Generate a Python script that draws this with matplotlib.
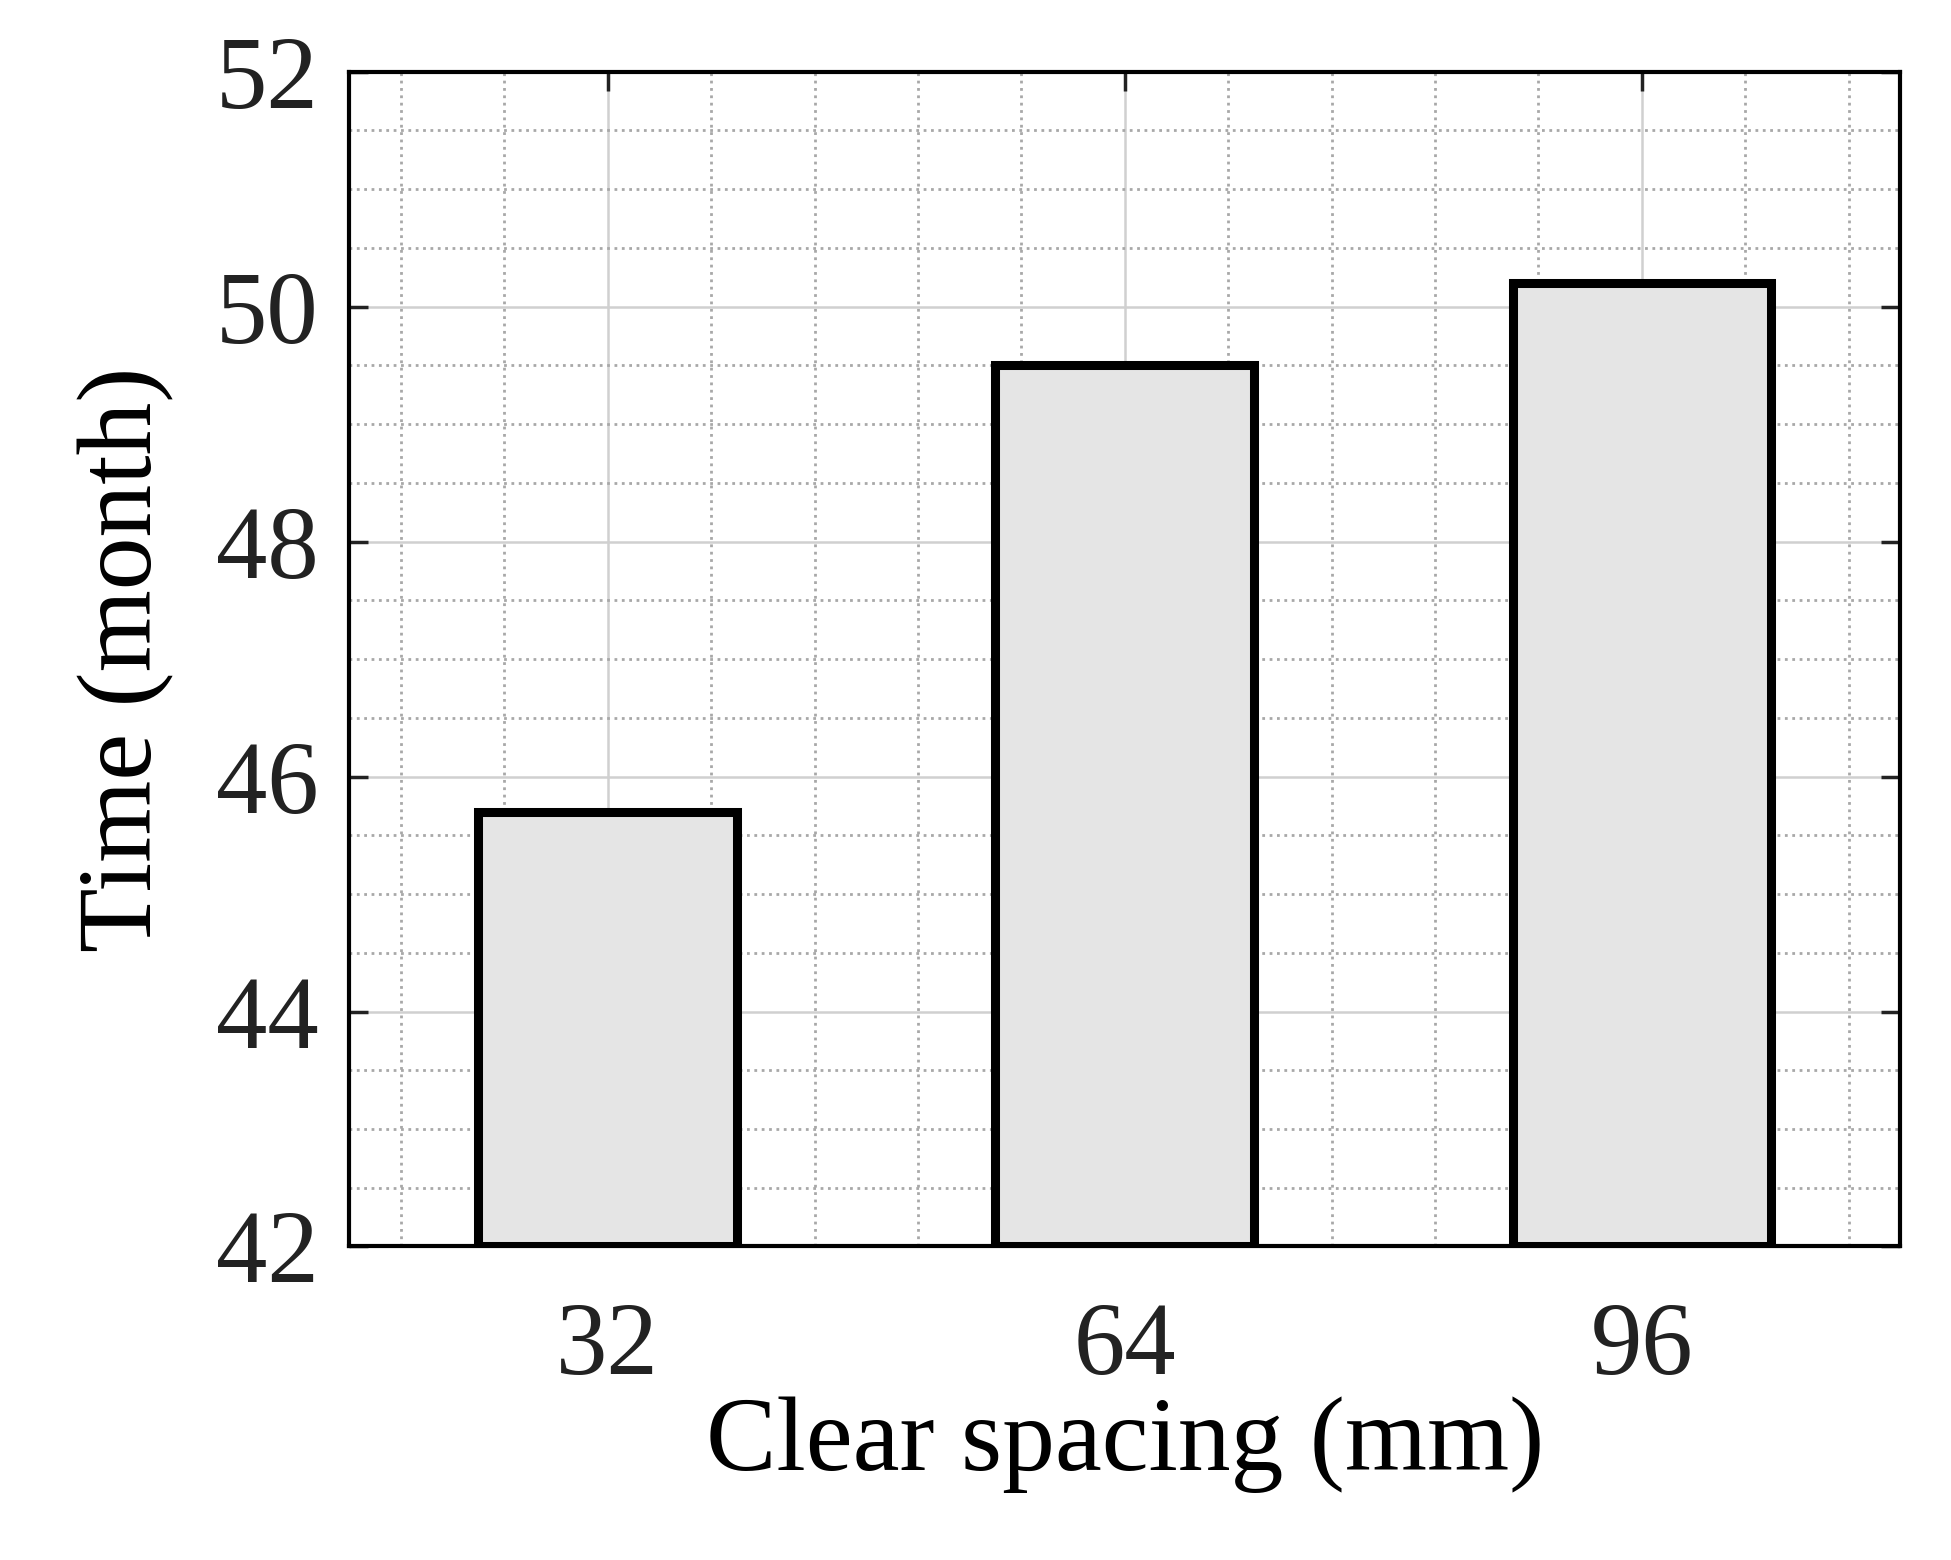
import matplotlib
matplotlib.use("Agg")
import matplotlib.pyplot as plt
from matplotlib.ticker import MultipleLocator

categories = ["32", "64", "96"]
values = [45.7, 49.5, 50.2]

plt.rcParams['font.family'] = ['Liberation Serif', 'DejaVu Serif']
fig = plt.figure(figsize=(19.51, 15.60), dpi=100)
ax = fig.add_axes([0.179, 0.201, 0.795, 0.753])
x = range(1, len(values) + 1)
ax.bar(x, [v - 42 for v in values], bottom=42, width=0.5, color='#e5e5e5',
       edgecolor='black', linewidth=6.5, zorder=3)
ax.set_xlim(0.5, 3.5)
ax.set_ylim(42, 52)
ax.set_xticks(list(x))
ax.set_xticklabels(categories)
ax.set_yticks([42, 44, 46, 48, 50, 52])
ax.xaxis.set_minor_locator(MultipleLocator(0.2))
ax.yaxis.set_minor_locator(MultipleLocator(0.5))
ax.grid(which='major', color='#d0d0d0', linewidth=1.8, zorder=0)
ax.grid(which='minor', color='#a8a8a8', linestyle=':', linewidth=2, zorder=0)
ax.tick_params(which='major', direction='in', top=True, right=True, length=14, width=2.5,
               labelsize=74, colors='#222222')
ax.tick_params(axis='x', pad=40)
ax.tick_params(axis='y', pad=22)
ax.tick_params(which='minor', length=0)
for s in ax.spines.values():
    s.set_linewidth(3)
ax.set_xlabel("Clear spacing (mm)", fontsize=76, labelpad=0)
ax.set_ylabel("Time (month)", fontsize=76, labelpad=30)
fig.savefig("out.png", dpi=100)
